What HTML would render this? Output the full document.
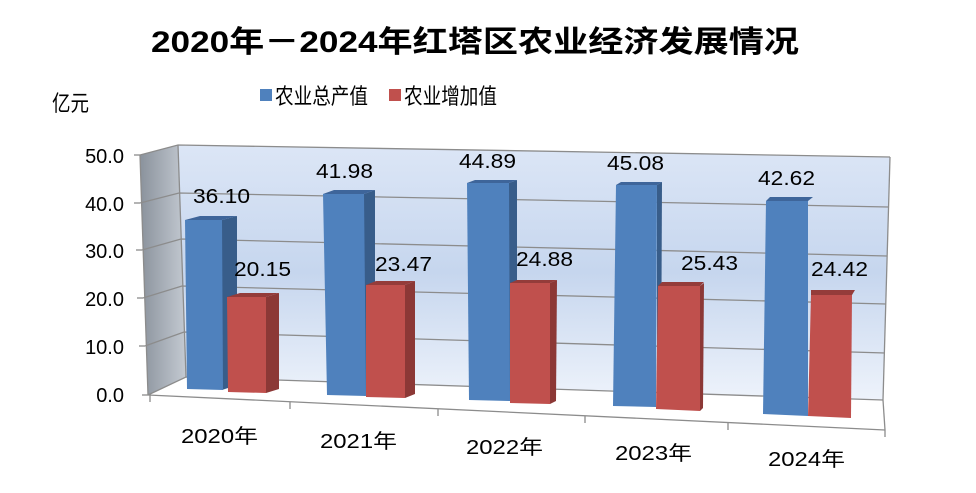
<!DOCTYPE html>
<html><head><meta charset="utf-8"><style>
html,body{margin:0;padding:0;background:#fff;}
svg{display:block;font-family:"Liberation Sans","Noto Sans CJK SC",sans-serif;}
</style></head><body>
<svg width="976" height="493" viewBox="0 0 976 493" xmlns="http://www.w3.org/2000/svg">
<defs>
<linearGradient id="bw" x1="0" y1="0" x2="0" y2="1">
<stop offset="0" stop-color="#dce6f6"/><stop offset="0.5" stop-color="#c6d6ee"/><stop offset="1" stop-color="#eef3fb"/></linearGradient>
<linearGradient id="sw" x1="0" y1="0" x2="1" y2="0">
<stop offset="0" stop-color="#8a929c"/><stop offset="1" stop-color="#c4cad2"/></linearGradient>
</defs>
<text x="475" y="52" text-anchor="middle" font-size="30" font-weight="bold" textLength="648" lengthAdjust="spacingAndGlyphs">2020年－2024年红塔区农业经济发展情况</text>
<rect x="260" y="89" width="12" height="12" fill="#4f81bd"/>
<text x="275" y="104" font-size="22" textLength="93" lengthAdjust="spacingAndGlyphs">农业总产值</text>
<rect x="389" y="89" width="12" height="12" fill="#c0504d"/>
<text x="404" y="104" font-size="22" textLength="93" lengthAdjust="spacingAndGlyphs">农业增加值</text>
<text x="52" y="111" font-size="22" textLength="37" lengthAdjust="spacingAndGlyphs">亿元</text>
<polygon points="178,145 890,157 883,400 186,377" fill="url(#bw)"/>
<polygon points="140,155 178,145 186,377 148,395" fill="url(#sw)"/>
<polygon points="148,395 186,377 883,400 885,430" fill="#fff"/>
<g stroke="#8c8c8c" stroke-width="1.3" fill="none">
<polyline points="140,155 178,145 890,157"/>
<polyline points="140,203 179,193 888,207"/>
<polyline points="142,250 181,239 887,256"/>
<polyline points="143,298 182,286 886,304"/>
<polyline points="145,346 184,332 885,353"/>
<polyline points="148,395 186,377 883,400"/>
<line x1="140" y1="155" x2="148" y2="395"/>
<line x1="178" y1="145" x2="186" y2="377"/>
<line x1="890" y1="157" x2="883" y2="400"/>
<line x1="148" y1="395" x2="885" y2="430"/>
<line x1="883" y1="400" x2="885" y2="430"/>
<line x1="150" y1="395" x2="150" y2="402"/>
<line x1="290" y1="402" x2="290" y2="409"/>
<line x1="438" y1="409" x2="438" y2="416"/>
<line x1="585" y1="416" x2="585" y2="423"/>
<line x1="728" y1="423" x2="728" y2="430"/>
<line x1="885" y1="430" x2="885" y2="437"/>
<line x1="134" y1="155" x2="140" y2="155"/>
<line x1="134" y1="203" x2="140" y2="203"/>
<line x1="136" y1="250" x2="142" y2="250"/>
<line x1="137" y1="298" x2="143" y2="298"/>
<line x1="139" y1="346" x2="145" y2="346"/>
<line x1="142" y1="395" x2="148" y2="395"/>
</g>
<g font-size="20" text-anchor="end">
<text x="124" y="163">50.0</text><text x="124" y="211">40.0</text><text x="124" y="258">30.0</text>
<text x="124" y="306">20.0</text><text x="124" y="354">10.0</text><text x="124" y="402">0.0</text>
</g>
<g>
<polygon points="222,220 237,216 237,385 222,390" fill="#385d8a"/>
<polygon points="185,220 222,220 237,216 200,216" fill="#3e659a"/>
<polygon points="185,220 222,220 223,390 187,389" fill="#4f81bd"/>
<polygon points="266,297 279,293 279,389 266,393" fill="#8c3836"/>
<polygon points="227,297 266,297 279,293 240,293" fill="#943c3a"/>
<polygon points="227,297 266,297 266,393 228,392" fill="#c0504d"/>
<polygon points="364,194 375,190 375,392 364,396" fill="#385d8a"/>
<polygon points="323,194 364,194 375,190 334,190" fill="#3e659a"/>
<polygon points="323,194 364,194 366,396 327,395" fill="#4f81bd"/>
<polygon points="405,285 415,281 415,394 405,398" fill="#8c3836"/>
<polygon points="366,285 405,285 415,281 376,281" fill="#943c3a"/>
<polygon points="366,285 405,285 405,398 366,397" fill="#c0504d"/>
<polygon points="509,183 517,180 517,398 509,401" fill="#385d8a"/>
<polygon points="467,183 509,183 517,180 475,180" fill="#3e659a"/>
<polygon points="467,183 509,183 510,401 469,400" fill="#4f81bd"/>
<polygon points="550,283 557,280 556,401 550,404" fill="#8c3836"/>
<polygon points="510,283 550,283 557,280 517,280" fill="#943c3a"/>
<polygon points="510,283 550,283 550,404 510,403" fill="#c0504d"/>
<polygon points="657,185 662,182 661,404 657,407" fill="#385d8a"/>
<polygon points="616,185 657,185 662,182 621,182" fill="#3e659a"/>
<polygon points="616,185 657,185 656,407 613,406" fill="#4f81bd"/>
<polygon points="700,286 704,283 703,408 700,411" fill="#8c3836"/>
<polygon points="658,286 700,286 704,282 662,282" fill="#943c3a"/>
<polygon points="658,286 700,286 700,411 656,409" fill="#c0504d"/>
<polygon points="766,201 808,201 813,197 770,197" fill="#3e659a"/>
<polygon points="766,201 808,201 808,416 763,414" fill="#4f81bd"/>
<polygon points="811,295 852,295 855,290 811,290" fill="#943c3a"/>
<polygon points="811,295 852,295 851,418 808,416" fill="#c0504d"/>
</g>
<g font-size="20">
<text x="193" y="203" textLength="57" lengthAdjust="spacingAndGlyphs">36.10</text>
<text x="234" y="276" textLength="57" lengthAdjust="spacingAndGlyphs">20.15</text>
<text x="316" y="178" textLength="57" lengthAdjust="spacingAndGlyphs">41.98</text>
<text x="375" y="271" textLength="57" lengthAdjust="spacingAndGlyphs">23.47</text>
<text x="459" y="168" textLength="57" lengthAdjust="spacingAndGlyphs">44.89</text>
<text x="516" y="266" textLength="57" lengthAdjust="spacingAndGlyphs">24.88</text>
<text x="607" y="170" textLength="57" lengthAdjust="spacingAndGlyphs">45.08</text>
<text x="681" y="270" textLength="57" lengthAdjust="spacingAndGlyphs">25.43</text>
<text x="758" y="185" textLength="57" lengthAdjust="spacingAndGlyphs">42.62</text>
<text x="811" y="276" textLength="57" lengthAdjust="spacingAndGlyphs">24.42</text>
</g>
<g font-size="20">
<text x="181" y="443" textLength="77" lengthAdjust="spacingAndGlyphs">2020年</text>
<text x="320" y="448" textLength="77" lengthAdjust="spacingAndGlyphs">2021年</text>
<text x="466" y="454" textLength="77" lengthAdjust="spacingAndGlyphs">2022年</text>
<text x="615" y="460" textLength="77" lengthAdjust="spacingAndGlyphs">2023年</text>
<text x="768" y="466" textLength="77" lengthAdjust="spacingAndGlyphs">2024年</text>
</g>
</svg>
</body></html>
